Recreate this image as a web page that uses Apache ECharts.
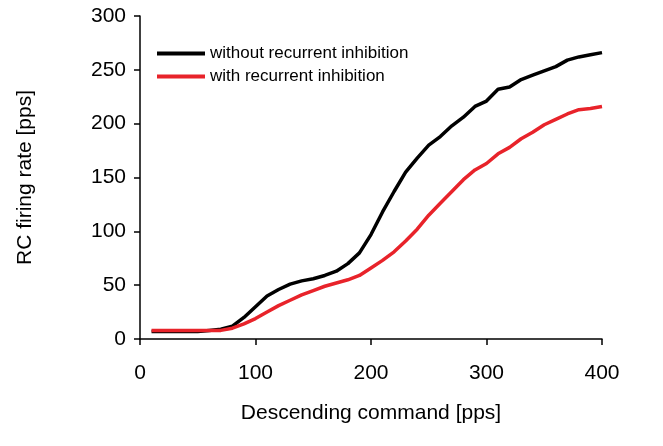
<!DOCTYPE html>
<html><head><meta charset="utf-8">
<script src="https://cdn.jsdelivr.net/npm/echarts@6/dist/echarts.min.js"></script>
<style>html,body{margin:0;padding:0;background:#fff}#c{width:663px;height:446px}</style>
</head><body><div id="c"></div>
<script>
const xs = [10,20,30,40,50,60,70,80,90,100,110,120,130,140,150,160,170,180,190,200,210,220,230,240,250,260,270,280,290,300,310,320,330,340,350,360,370,380,390,400];
const without = [7,7,7,7,7,8,9,12,20,30,40,46,51,54,56,59,63,70,80,97,118,137,155,168,180,188,198,206,216,221,232,234,241,245,249,253,259,262,264,266];
const withRI = [8,8,8,8,8,8,8,10,14,19,25,31,36,41,45,49,52,55,59,66,73,81,91,102,115,126,137,148,157,163,172,178,186,192,199,204,209,213,214,216];
const names = ['without recurrent inhibition','with recurrent inhibition'];
const ff = 'Liberation Sans, Arial, sans-serif';
const ch = echarts.init(document.getElementById('c'));
ch.setOption({
  animation:false,
  grid:{left:140,right:61,top:16,bottom:107},
  legend:{left:152,top:40,orient:'vertical',itemWidth:48,itemHeight:4,itemGap:6,
    textStyle:{fontFamily:ff,fontSize:17,color:'#000'},icon:'rect'},
  xAxis:{type:'value',min:0,max:400,interval:100,offset:10,
    name:'Descending command [pps]',nameLocation:'middle',nameGap:54,
    nameTextStyle:{fontFamily:ff,fontSize:21,color:'#000'},
    axisLine:{lineStyle:{color:'#000',width:1.5}},
    axisTick:{length:6,lineStyle:{color:'#000',width:1.5}},
    axisLabel:{fontFamily:ff,fontSize:21,color:'#000',margin:14},splitLine:{show:false}},
  yAxis:{type:'value',min:0,max:300,interval:50,offset:6,
    name:'RC firing rate [pps]',nameLocation:'middle',nameGap:98,
    nameTextStyle:{fontFamily:ff,fontSize:21,color:'#000'},
    axisLine:{show:true,lineStyle:{color:'#000',width:1.5}},
    axisTick:{show:true,length:6,lineStyle:{color:'#000',width:1.5}},
    axisLabel:{fontFamily:ff,fontSize:21,color:'#000',margin:8},splitLine:{show:false}},
  series:[
    {name:names[0],type:'line',data:xs.map((x,i)=>[x,without[i]]),showSymbol:false,
      lineStyle:{color:'#000',width:3.5},itemStyle:{color:'#000'}},
    {name:names[1],type:'line',data:xs.map((x,i)=>[x,withRI[i]]),showSymbol:false,
      lineStyle:{color:'#e8232a',width:3.5},itemStyle:{color:'#e8232a'}}
  ]
});
</script></body></html>
